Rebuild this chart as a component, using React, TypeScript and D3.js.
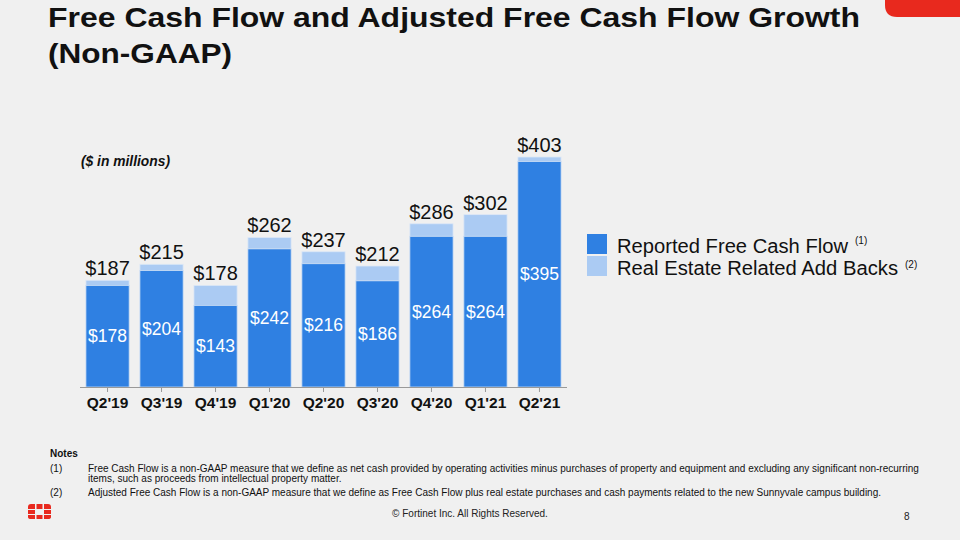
import React from "react";
import * as d3 from "d3";

const quarters = ["Q2'19", "Q3'19", "Q4'19", "Q1'20", "Q2'20", "Q3'20", "Q4'20", "Q1'21", "Q2'21"];
const reported = [178, 204, 143, 242, 216, 186, 264, 264, 395];
const addBacks = [9, 11, 35, 20, 21, 26, 22, 38, 8];
const totals = [187, 215, 178, 262, 237, 212, 286, 302, 403];
const legendLabels = ["Reported Free Cash Flow", "Real Estate Related Add Backs"];
const legendNotes = ["(1)", "(2)"];

const W = 960;
const H = 540;
const DARK = "#2f80e2";
const LIGHT = "#abcbf3";
const BG = "#f0f0f0";
const FONT = "'Liberation Sans', Arial, sans-serif";

export default function App() {
  const x = d3.scaleBand<string>().domain(quarters).range([80, 567]).paddingInner(0.2).paddingOuter(0.11);
  const y = d3.scaleLinear().domain([0, 403]).range([387, 157]);
  const bw = x.bandwidth();

  return (
    <svg width={W} height={H} viewBox={`0 0 ${W} ${H}`} style={{ position: "absolute", left: 0, top: 0, background: BG, fontFamily: FONT }}>
      <rect x={0} y={0} width={W} height={H} fill={BG} />
      {/* top-right red tab */}
      <path d="M885,0 H960 V17 H897 Q885,17 885,5 Z" fill="#e8291e" />
      {/* title */}
      <text x={48} y={27} fontSize={28.5} fontWeight="bold" fill="#111" textLength={812} lengthAdjust="spacingAndGlyphs">Free Cash Flow and Adjusted Free Cash Flow Growth</text>
      <text x={48} y={63} fontSize={28.5} fontWeight="bold" fill="#111" textLength={184} lengthAdjust="spacingAndGlyphs">(Non-GAAP)</text>
      <text x={81} y={166} fontSize={14} fontWeight="bold" fontStyle="italic" fill="#111" textLength={89} lengthAdjust="spacingAndGlyphs">($ in millions)</text>

      {/* bars */}
      {quarters.map((q, i) => {
        const x0 = x(q)!;
        const yr = y(reported[i]);
        const yt = y(reported[i] + addBacks[i]);
        return (
          <g key={q}>
            <rect x={x0} y={yt} width={bw} height={yr - yt} fill={LIGHT} stroke="#dde8f6" strokeWidth={0.8} />
            <rect x={x0} y={yr} width={bw} height={y(0) - yr} fill={DARK} stroke="#c9dcf4" strokeWidth={0.8} />
            <text x={x0 + bw / 2} y={(yr + y(0)) / 2 + 6} textAnchor="middle" fontSize={17.5} fill="#fff">${reported[i]}</text>
            <text x={x0 + bw / 2} y={y(totals[i]) - 5} textAnchor="middle" fontSize={20} fill="#111">${totals[i]}</text>
          </g>
        );
      })}

      {/* axis */}
      <line x1={80} x2={567} y1={y(0) + 0.5} y2={y(0) + 0.5} stroke="#999" strokeWidth={1.2} />
      {quarters.map((q) => (
        <g key={"t" + q}>
          <line x1={x(q)! + bw / 2} x2={x(q)! + bw / 2} y1={y(0)} y2={y(0) + 5} stroke="#999" />
          <text x={x(q)! + bw / 2} y={408} textAnchor="middle" fontSize={15.5} fontWeight="bold" fill="#111">{q}</text>
        </g>
      ))}

      {/* legend */}
      {legendLabels.map((l, i) => (
        <g key={l}>
          <rect x={587} y={234 + i * 22} width={20} height={20} fill={i === 0 ? DARK : LIGHT} />
          <text x={617} y={253 + i * 22} fontSize={19.5} fill="#111" textLength={i === 0 ? 231 : 281} lengthAdjust="spacingAndGlyphs">{l}</text>
        </g>
      ))}
      <text x={855} y={244} fontSize={10} fill="#111">{legendNotes[0]}</text>
      <text x={905} y={268} fontSize={10} fill="#111">{legendNotes[1]}</text>

      {/* notes */}
      <g fontSize={10} fill="#111">
        <text x={50} y={457} fontWeight="bold">Notes</text>
        <text x={50} y={472}>(1)</text>
        <text x={88} y={472}>Free Cash Flow is a non-GAAP measure that we define as net cash provided by operating activities minus purchases of property and equipment and excluding any significant non-recurring</text>
        <text x={88} y={482}>items, such as proceeds from intellectual property matter.</text>
        <text x={50} y={496}>(2)</text>
        <text x={88} y={496}>Adjusted Free Cash Flow is a non-GAAP measure that we define as Free Cash Flow plus real estate purchases and cash payments related to the new Sunnyvale campus building.</text>
      </g>
      <text x={470} y={517} textAnchor="middle" fontSize={10} fill="#222" fontFamily="'Liberation Sans Narrow', 'Liberation Sans', Arial, sans-serif">© Fortinet Inc. All Rights Reserved.</text>
      <text x={904} y={520} fontSize={10} fill="#222">8</text>

      {/* logo */}
      <g fill="#e8291e">
        <path d="M28,509 V507 Q28,504 31,504 H35 V509 Z" />
        <rect x={36.5} y={504} width={6} height={5} />
        <path d="M44,504 H48 Q51,504 51,507 V509 H44 Z" />
        <rect x={28} y={510} width={7} height={4} />
        <rect x={44} y={510} width={7} height={4} />
        <path d="M28,515 H35 V519 H31 Q28,519 28,517 Z" />
        <rect x={36.5} y={515} width={6} height={4} />
        <path d="M44,515 H51 V517 Q51,519 48,519 H44 Z" />
      </g>
    </svg>
  );
}
